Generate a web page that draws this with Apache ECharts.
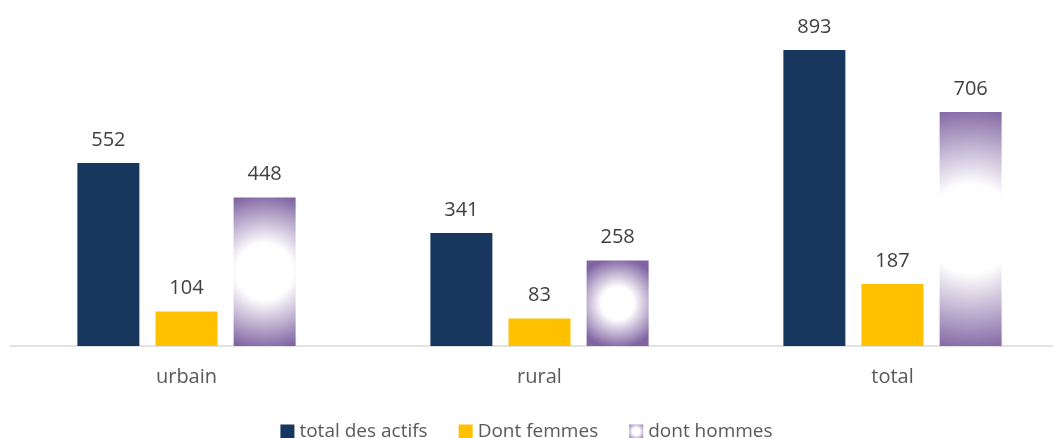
<!DOCTYPE html>
<html>
<head>
<meta charset="utf-8">
<script src="https://cdn.jsdelivr.net/npm/echarts@6/dist/echarts.min.js"></script>
<style>
  html, body { margin: 0; padding: 0; background: #fff; }
  #chart { width: 1053px; height: 438px; }
</style>
</head>
<body>
<div id="chart"></div>
<script>
const categories = ["urbain", "rural", "total"];
const totalActifs = [552, 341, 893];
const dontFemmes = [104, 83, 187];
const dontHommes = [448, 258, 706];

const FONT = "Open Sans";
const PURPLE = "#8064A2";
const BAR_W = 62;
const PX_PER_UNIT = 331.5 / 1000;

// radial fill: white in the middle, purple towards the edges
const glow = (r) => ({
  type: "radial", x: 0.5, y: 0.5, r,
  colorStops: [
    { offset: 0, color: "#ffffff" },
    { offset: 0.36, color: "#ffffff" },
    { offset: 1, color: PURPLE }
  ]
});

// stretch the circle with the bar so tall bars keep the white centre band
const hommesData = dontHommes.map((v) => {
  const halfH = (v * PX_PER_UNIT) / 2;
  return { value: v, itemStyle: { color: glow(Math.max(halfH, BAR_W / 2) / BAR_W * 1.05) } };
});

const label = {
  show: true,
  position: "top",
  distance: 13,
  color: "#404040",
  fontFamily: FONT,
  fontSize: 20
};

const chart = echarts.init(document.getElementById("chart"));
chart.setOption({
  animation: false,
  textStyle: { fontFamily: FONT },
  grid: { left: 10, right: -16, top: 14.5, bottom: 92, containLabel: false, outerBoundsMode: "none" },
  legend: {
    top: 417,
    left: "center",
    itemWidth: 14,
    itemHeight: 14,
    itemGap: 31,
    icon: "rect",
    textStyle: { color: "#595959", fontSize: 19, fontFamily: FONT },
    data: ["total des actifs", "Dont femmes", "dont hommes"]
  },
  xAxis: {
    type: "category",
    data: categories,
    axisLine: { lineStyle: { color: "#d9d9d9", width: 1.5 } },
    axisTick: { show: false },
    axisLabel: { color: "#595959", fontSize: 20, fontFamily: FONT, margin: 21 }
  },
  yAxis: {
    type: "value",
    min: 0,
    max: 1000,
    show: false,
    splitLine: { show: false }
  },
  series: [
    {
      name: "total des actifs",
      type: "bar",
      data: totalActifs,
      barWidth: BAR_W,
      barGap: "26%",
      itemStyle: { color: "#17375E" },
      label
    },
    {
      name: "Dont femmes",
      type: "bar",
      data: dontFemmes,
      barWidth: BAR_W,
      barGap: "26%",
      itemStyle: { color: "#FFC000" },
      label
    },
    {
      name: "dont hommes",
      type: "bar",
      data: hommesData,
      barWidth: BAR_W,
      barGap: "26%",
      itemStyle: { color: glow(0.75) },
      label
    }
  ]
});
</script>
</body>
</html>
